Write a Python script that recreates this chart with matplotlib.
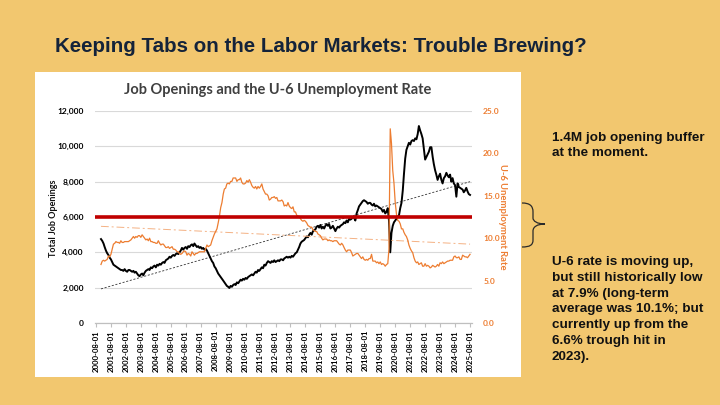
import matplotlib.pyplot as plt
import matplotlib.transforms as mtransforms
from matplotlib.lines import Line2D
from matplotlib.path import Path
from matplotlib.patches import PathPatch, Rectangle
import pandas as pd

# monthly data, Dec 2000 - Aug 2025
months = pd.date_range("2000-12-01", "2025-08-01", freq="MS")

# total job openings (thousands), one row per year
job_openings = [
    4750,
    4650, 4500, 4300, 4100, 3950, 3850, 3700, 3600, 3450, 3300, 3250, 3200,
    3150, 3100, 3050, 3000, 3000, 2950, 3050, 2950, 2900, 3000, 3000, 2950,
    2900, 2950, 2850, 2900, 2800, 2700, 2650, 2750, 2800, 2700, 2850, 2950,
    3000, 3050, 3000, 3150, 3100, 3200, 3250, 3150, 3300, 3250, 3350, 3300,
    3400, 3450, 3400, 3550, 3600, 3650, 3750, 3700, 3800, 3850, 3800, 3900,
    3950, 3900, 4000, 4100, 4250, 4150, 4250, 4300, 4200, 4350, 4300, 4400,
    4450, 4350, 4500, 4400, 4300, 4350, 4250, 4300, 4200, 4250, 4150, 4200,
    4100, 3950, 3800, 3650, 3500, 3400, 3200, 3100, 2950, 2800, 2700, 2600,
    2500, 2400, 2300, 2200, 2100, 2050, 1980, 2100, 2050, 2150, 2200, 2150,
    2300, 2250, 2350, 2450, 2400, 2500, 2450, 2550, 2500, 2600, 2650, 2700,
    2750, 2700, 2800, 2900, 2850, 3000, 2950, 3050, 3150, 3100, 3300, 3250,
    3400, 3500, 3450, 3400, 3500, 3450, 3550, 3450, 3500, 3550, 3500, 3600,
    3600, 3550, 3650, 3700, 3750, 3700, 3750, 3700, 3800, 3750, 3850, 3950,
    4000, 4150, 4300, 4500, 4600, 4650, 4700, 4800, 4900, 4850, 5000, 5100,
    5000, 5200, 5250, 5300, 5450, 5500, 5400, 5550, 5350, 5450, 5350, 5500,
    5600, 5500, 5600, 5350, 5400, 5500, 5350, 5200, 5350, 5450, 5400, 5500,
    5550, 5600, 5700, 5650, 5800, 5700, 5900, 5850, 5900, 6000, 5950, 5800,
    6200, 6400, 6600, 6700, 6800, 6900, 6950, 6900, 6850, 6750, 6800, 6800,
    6700, 6650, 6750, 6600, 6650, 6600, 6550, 6500, 6450, 6300, 6400, 6200,
    6300, 6500, 5800, 4000, 5100, 5500, 5700, 5800, 5900, 6000, 6100, 6500,
    6800, 7500, 8400, 9300, 9800, 10000, 10200, 10100, 10300, 10350, 10300, 10450,
    10400, 10700, 11150, 10900, 10700, 10450, 9850, 9250, 9400, 9550, 9700, 9950,
    9950, 9400, 9000, 8650, 8400, 8100, 8300, 8450, 8100, 7900, 8200, 8300,
    8500, 8350, 8250, 8400, 8000, 8200, 7900, 7800, 7150, 7900, 7700, 7650,
    7600, 7550, 7400, 7500, 7650, 7450, 7300, 7250,
]

# U-6 unemployment rate (%), one row per year
u6_rate = [
    6.9,
    7.3, 7.4, 7.3, 7.4, 7.5, 7.9, 7.8, 8.1, 8.7, 9.3, 9.4, 9.6,
    9.5, 9.5, 9.4, 9.7, 9.5, 9.5, 9.6, 9.6, 9.6, 9.6, 9.7, 9.8,
    10.0, 10.2, 10.0, 10.2, 10.1, 10.3, 10.3, 10.1, 10.4, 10.2, 10.0, 9.8,
    9.9, 9.7, 10.0, 9.6, 9.6, 9.5, 9.5, 9.4, 9.4, 9.7, 9.4, 9.2,
    9.3, 9.3, 9.1, 8.9, 8.9, 9.0, 8.8, 8.9, 9.0, 8.7, 8.7, 8.6,
    8.4, 8.4, 8.2, 8.1, 8.2, 8.4, 8.5, 8.4, 8.0, 8.2, 8.1, 7.9,
    8.4, 8.2, 8.0, 8.2, 8.2, 8.3, 8.4, 8.4, 8.4, 8.4, 8.4, 8.8,
    9.2, 9.0, 9.1, 9.2, 9.7, 10.1, 10.5, 10.8, 11.1, 11.8, 12.6, 13.6,
    14.2, 15.2, 15.8, 15.9, 16.4, 16.5, 16.4, 16.7, 16.7, 17.1, 17.1, 17.1,
    16.7, 16.9, 16.9, 17.1, 16.6, 16.4, 16.4, 16.5, 16.8, 16.6, 16.9, 16.6,
    16.2, 16.0, 15.9, 16.1, 15.8, 16.1, 15.9, 16.1, 16.4, 15.8, 15.5, 15.2,
    15.2, 15.0, 14.5, 14.6, 14.8, 14.8, 14.9, 14.7, 14.8, 14.4, 14.4, 14.4,
    14.5, 14.3, 13.8, 13.9, 13.8, 14.2, 13.8, 13.6, 13.5, 13.7, 13.1, 13.1,
    12.7, 12.6, 12.6, 12.3, 12.1, 12.0, 12.1, 12.0, 11.8, 11.5, 11.4, 11.3,
    11.3, 11.0, 10.9, 10.8, 10.8, 10.5, 10.4, 10.3, 10.0, 9.8, 9.9, 9.9,
    9.9, 9.7, 9.8, 9.7, 9.7, 9.6, 9.7, 9.7, 9.7, 9.5, 9.3, 9.2,
    9.4, 9.2, 8.9, 8.6, 8.4, 8.6, 8.6, 8.6, 8.3, 7.9, 8.0, 8.1,
    8.2, 8.2, 8.0, 7.8, 7.6, 7.8, 7.5, 7.4, 7.5, 7.4, 7.6, 7.6,
    8.1, 7.3, 7.3, 7.3, 7.1, 7.2, 7.0, 7.2, 6.9, 7.0, 6.9, 6.7,
    6.9, 7.0, 8.7, 22.9, 21.2, 18.0, 16.5, 14.2, 12.8, 12.1, 12.0, 11.7,
    11.1, 11.1, 10.7, 10.4, 10.2, 9.8, 9.2, 8.8, 8.5, 8.3, 7.7, 7.3,
    7.1, 7.2, 6.9, 7.0, 7.1, 6.7, 6.7, 7.0, 6.7, 6.8, 6.7, 6.5,
    6.6, 6.8, 6.7, 6.6, 6.7, 6.9, 6.7, 7.1, 7.0, 7.2, 7.0, 7.1,
    7.2, 7.3, 7.3, 7.4, 7.4, 7.4, 7.8, 7.9, 7.7, 7.7, 7.8, 7.5,
    7.5, 8.0, 7.9, 7.8, 7.8, 7.7, 7.9, 8.1,
]

# linear trend end points (start, end) as drawn in the chart
openings_trend = [1930, 8000]
u6_trend = [11.4, 9.3]
threshold = 6000

tick_dates = [pd.Timestamp(f"{y}-08-01") for y in range(2000, 2026)]
tick_labels = [d.strftime("%Y-%m-%d") for d in tick_dates]
left_ticks = [0, 2000, 4000, 6000, 8000, 10000, 12000]
right_ticks = [0, 5, 10, 15, 20, 25]

slide_title = "Keeping Tabs on the Labor Markets: Trouble Brewing?"
note_1 = ["1.4M job opening buffer", "at the moment."]
note_2 = ["U-6 rate is moving up,", "but still historically low",
          "at 7.9% (long-term", "average was 10.1%; but",
          "currently up from the", "6.6% trough hit in", "2023)."]

BG = "#F2C76F"
ORANGE = "#ED7D31"
plt.rcParams["font.family"] = ["Lato", "DejaVu Sans"]

fig = plt.figure(figsize=(7.2, 4.05), dpi=100, facecolor=BG)

# slide layer in pixel coordinates
bg = fig.add_axes([0, 0, 1, 1], zorder=0)
bg.set_xlim(0, 720)
bg.set_ylim(405, 0)
bg.axis("off")
bg.add_patch(Rectangle((35, 72), 486, 305, facecolor="white", edgecolor="none"))

bg.text(55, 52, slide_title, fontsize=14.8, fontweight="bold", color="#14233A",
        family="Liberation Sans", va="baseline", ha="left")
for i, s in enumerate(note_1):
    bg.text(552, 141 + i * 15.5, s, fontsize=9.7, fontweight="bold",
            family="Liberation Sans", color="#111111", va="baseline")
for i, s in enumerate(note_2):
    bg.text(552, 265 + i * 15.8, s, fontsize=9.7, fontweight="bold",
            family="Liberation Sans", color="#111111", va="baseline")

brace = Path(
    [(522, 203), (530, 203), (533, 206), (533, 212), (533, 218),
     (533, 221), (537, 224), (545, 224),
     (537, 224), (533, 227), (533, 231), (533, 240),
     (533, 245), (530, 247), (522, 247)],
    [Path.MOVETO, Path.CURVE4, Path.CURVE4, Path.CURVE4, Path.LINETO,
     Path.CURVE4, Path.CURVE4, Path.CURVE4,
     Path.CURVE4, Path.CURVE4, Path.CURVE4, Path.LINETO,
     Path.CURVE4, Path.CURVE4, Path.CURVE4])
bg.add_patch(PathPatch(brace, facecolor="none", edgecolor="#2a2a2a", lw=0.9))

bg.text(278, 94, "Job Openings and the U-6 Unemployment Rate", fontsize=10.5,
        fontweight="bold", color="#404040", ha="center", va="baseline")
bg.text(53, 218, "Total Job Openings", rotation=90, fontsize=6.5,
        fontweight="bold", color="#111111", ha="center", va="center")
bg.text(503, 217, "U-6 Unemployment Rate", rotation=270, fontsize=6.8,
        fontweight="bold", color=ORANGE, ha="center", va="center")

# chart
ax = fig.add_axes([95 / 720, 82 / 405, 377 / 720, 212 / 405], zorder=1)
ax.patch.set_alpha(0)
ax2 = ax.twinx()

ax.plot(months, job_openings, color="black", lw=1.4, zorder=3)
ax.plot([months[0], months[-1]], openings_trend, color="#333333", lw=0.6,
        ls=(0, (2.5, 2)), zorder=2)
ax2.plot(months, u6_rate, color=ORANGE, lw=0.9, zorder=3)
ax2.plot([months[0], months[-1]], u6_trend, color="#F4B183", lw=0.7,
         ls=(0, (8, 3, 2, 3)), zorder=2)

# red reference line on top, in left-axis units
red = Line2D([0, 1], [threshold, threshold], color="#C00000", lw=2.6,
             transform=mtransforms.blended_transform_factory(ax.transAxes, ax.transData),
             zorder=5)
ax2.add_line(red)

ax.set_xlim(pd.Timestamp("2000-07-08"), pd.Timestamp("2025-09-18"))
ax.set_ylim(0, 12000)
ax2.set_ylim(0, 25)

ax.set_yticks(left_ticks)
ax.set_yticklabels([f"{v:,}" for v in left_ticks])
ax2.set_yticks(right_ticks)
ax2.set_yticklabels([f"{v:.1f}" for v in right_ticks])
ax.set_xticks(tick_dates)
ax.set_xticklabels(tick_labels, rotation=90)

ax.yaxis.grid(True, color="#D9D9D9", lw=0.8)
ax.set_axisbelow(True)
for a in (ax, ax2):
    for side in ("left", "right", "top"):
        a.spines[side].set_visible(False)
    a.spines["bottom"].set_color("#BFBFBF")
ax.tick_params(axis="y", length=0, pad=8, labelsize=6)
ax2.tick_params(axis="y", length=0, pad=8, labelsize=6, labelcolor=ORANGE)
ax.tick_params(axis="x", length=3, color="#BFBFBF", pad=2, labelsize=5.6)
for lab in ax.get_xticklabels() + ax.get_yticklabels() + ax2.get_yticklabels():
    lab.set_fontweight("bold")

fig.savefig("out.png", dpi=100, facecolor=BG)
